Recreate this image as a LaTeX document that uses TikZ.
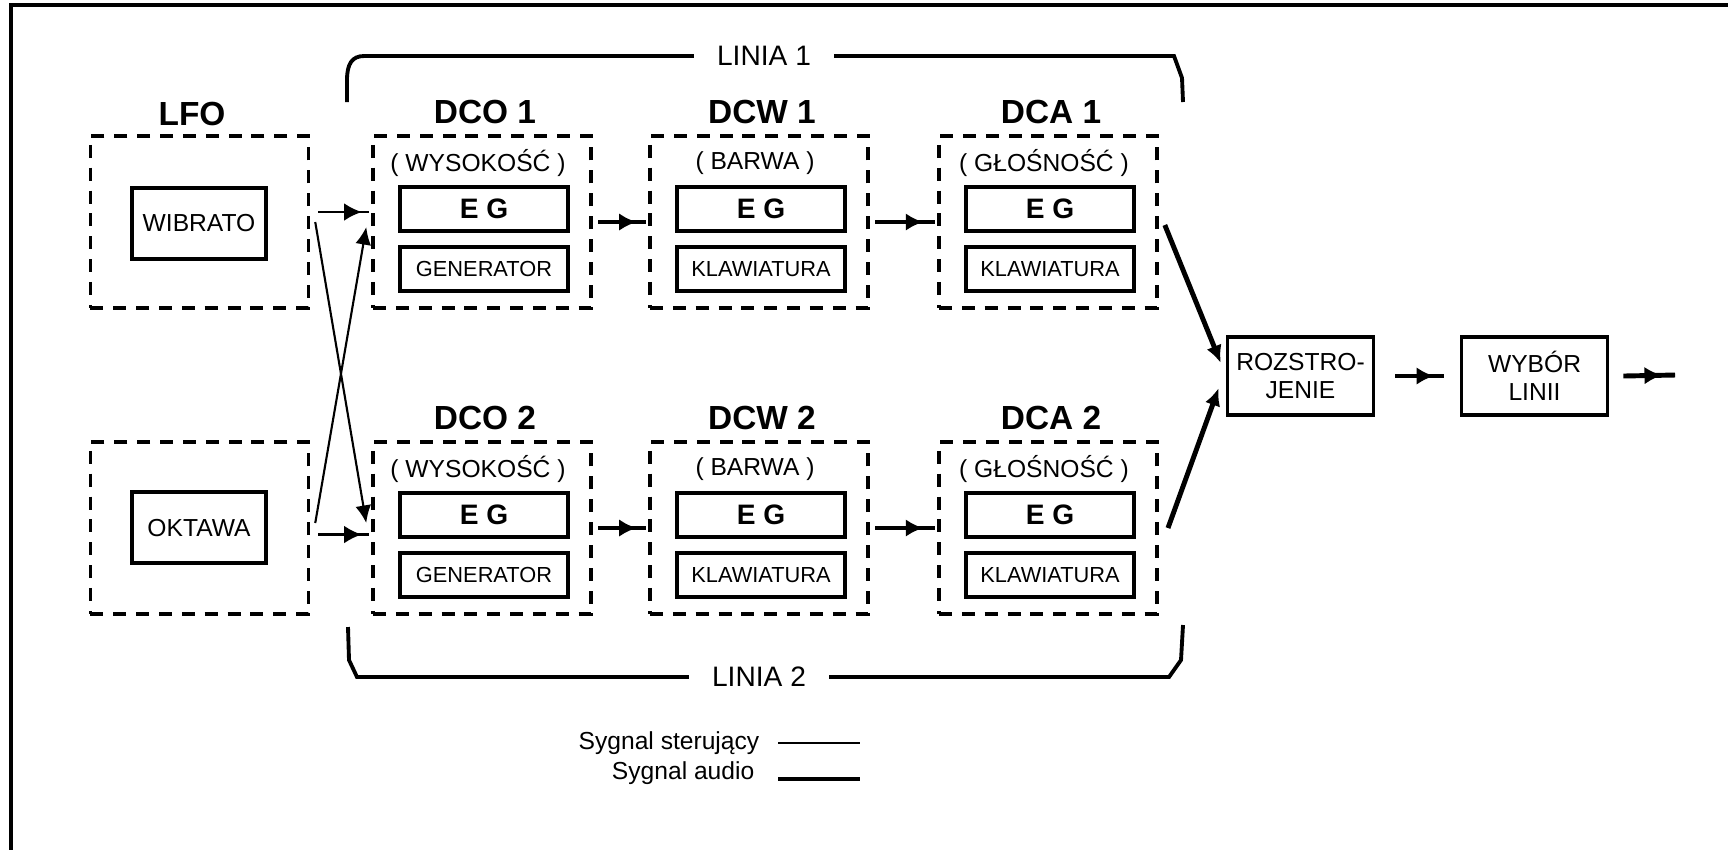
\documentclass[tikz,border=0pt]{standalone}
\usepackage{fontspec}
\setmainfont{Liberation Sans}
\usetikzlibrary{arrows.meta,decorations.markings}

\begin{document}
\begin{tikzpicture}[
  x=0.01cm,y=-0.01cm,>=Latex,
  border/.style={line width=1.2pt},
  stage/.style={draw,line width=1pt,dash pattern=on 3.7pt off 2.8pt,
    minimum width=2.18cm,minimum height=1.72cm,inner sep=0pt},
  head/.style={font=\fontsize{9.5}{11}\selectfont\bfseries,inner sep=0pt},
  subtitle/.style={font=\fontsize{7}{8}\selectfont,inner sep=0pt},
  unitbox/.style={draw,line width=1pt,minimum width=1.68cm,
    minimum height=.44cm,inner sep=0pt},
  eg/.style={unitbox,font=\fontsize{8}{9}\selectfont\bfseries},
  src/.style={unitbox,font=\fontsize{6.2}{7}\selectfont},
  sidebox/.style={draw,line width=1pt,minimum width=1.34cm,
    minimum height=.71cm,font=\fontsize{7}{8}\selectfont,inner sep=0pt},
  mix/.style={draw,line width=1pt,minimum width=1.46cm,minimum height=.78cm,
    align=center,font=\fontsize{7}{8}\selectfont,inner sep=0pt},
  lane/.style={fill=white,inner xsep=6.5pt,inner ysep=1pt,
    font=\fontsize{8}{9}\selectfont},
  bracket/.style={line width=1.1pt},
  ctrl/.style={line width=.6pt},
  audio/.style={line width=1.4pt},
  midtip/.style={postaction={decorate,decoration={markings,
    mark=at position #1 with {\arrow{Latex[length=5pt,width=5pt]}}}}},
  midtip/.default=.8,
  endtip/.style={-{Latex[length=5pt,width=4.5pt]}},
  legend/.style={font=\fontsize{7}{8}\selectfont,inner sep=0pt,anchor=east}
]
\useasboundingbox (0,0) rectangle (1728,850);
\draw[border] (1728,5) -- (11,5) -- (11,850);

\node[stage] (lfo) at (199.5,222) {};
\node[head] at (192,114) {LFO};
\node[sidebox] (wib) at (199,223.5) {WIBRATO};
\node[stage] (okt) at (199.5,528) {};
\node[sidebox] (okw) at (199,527.5) {OKTAWA};

\foreach \r/\yt in {1/136,2/442}
  \foreach \nm/\x/\ttl/\subt/\lowt in {dco/482/DCO/WYSOKOŚĆ/GENERATOR,
      dcw/759/DCW/BARWA/KLAWIATURA,dca/1048/DCA/GŁOŚNOŚĆ/KLAWIATURA}{
    \node[stage] (\nm\r) at (\x,\yt+86) {};
    \node[head] at (\x+3,\yt-24) {\ttl~\r};
    \node[subtitle] at (\x-4,\yt+27) {( \subt{} )};
    \node[eg] (\nm eg\r) at (\x+2,\yt+73) {E G};
    \node[src] (\nm src\r) at (\x+2,\yt+133) {\lowt};
  }

\node[mix] (roz) at (1300.5,376) {ROZSTRO-\\JENIE};
\node[mix] (wyb) at (1534.5,376) {WYBÓR\\LINII};
\coordinate (out) at (1675,375);

\draw[ctrl,midtip=.85] ([xshift=2.3pt,yshift=.1cm]lfo.east) --
  ([xshift=-.5pt,yshift=.1cm]dco1.west);
\draw[ctrl,endtip] ([xshift=1.4pt]lfo.east) --
  ([xshift=-1.4pt,yshift=.05cm]dco2.west);
\draw[ctrl,endtip] ([xshift=1.4pt,yshift=.05cm]okt.east) --
  ([xshift=-1.4pt,yshift=-.05cm]dco1.west);
\draw[ctrl,midtip=.85] ([xshift=2.3pt,yshift=-.065cm]okt.east) --
  ([xshift=-.5pt,yshift=-.065cm]dco2.west);

\foreach \a/\b in {dco1/dcw1,dcw1/dca1,dco2/dcw2,dcw2/dca2}
  \draw[audio,midtip] ([xshift=1.5pt]\a.east) -- ([xshift=-.5pt]\b.west);
\draw[audio,endtip] ([xshift=1.7pt,yshift=-.03cm]dca1.east) --
  ([xshift=-1.4pt,yshift=.13cm]roz.west);
\draw[audio,endtip] ([xshift=2.6pt]dca2.east) --
  ([xshift=-2pt,yshift=-.12cm]roz.west);
\draw[audio,midtip] ([xshift=5.7pt]roz.east) -- ([xshift=-4.5pt]wyb.west);
\draw[audio,midtip=.75] ([xshift=4pt]wyb.east) -- (out);

\draw[bracket] (347,102) -- (347,80) .. controls (347,64) and (352,56) ..
  (364,56) -- (1174,56) -- (1182,78) -- (1183,102);
\node[lane] (lin1) at (764,56) {LINIA 1};
\draw[bracket] (348,627) -- (349,660) -- (357,677) -- (1169,677) --
  (1181,660) -- (1183,625);
\node[lane] (lin2) at (759,677) {LINIA 2};

\node[legend] (lgc) at (760,743) {Sygnal sterujący};
\node[legend] (lga) at (755,773) {Sygnal audio};
\draw[ctrl] (778,743) -- (860,743);
\draw[audio] (778,779) -- (860,779);
\end{tikzpicture}
\end{document}
